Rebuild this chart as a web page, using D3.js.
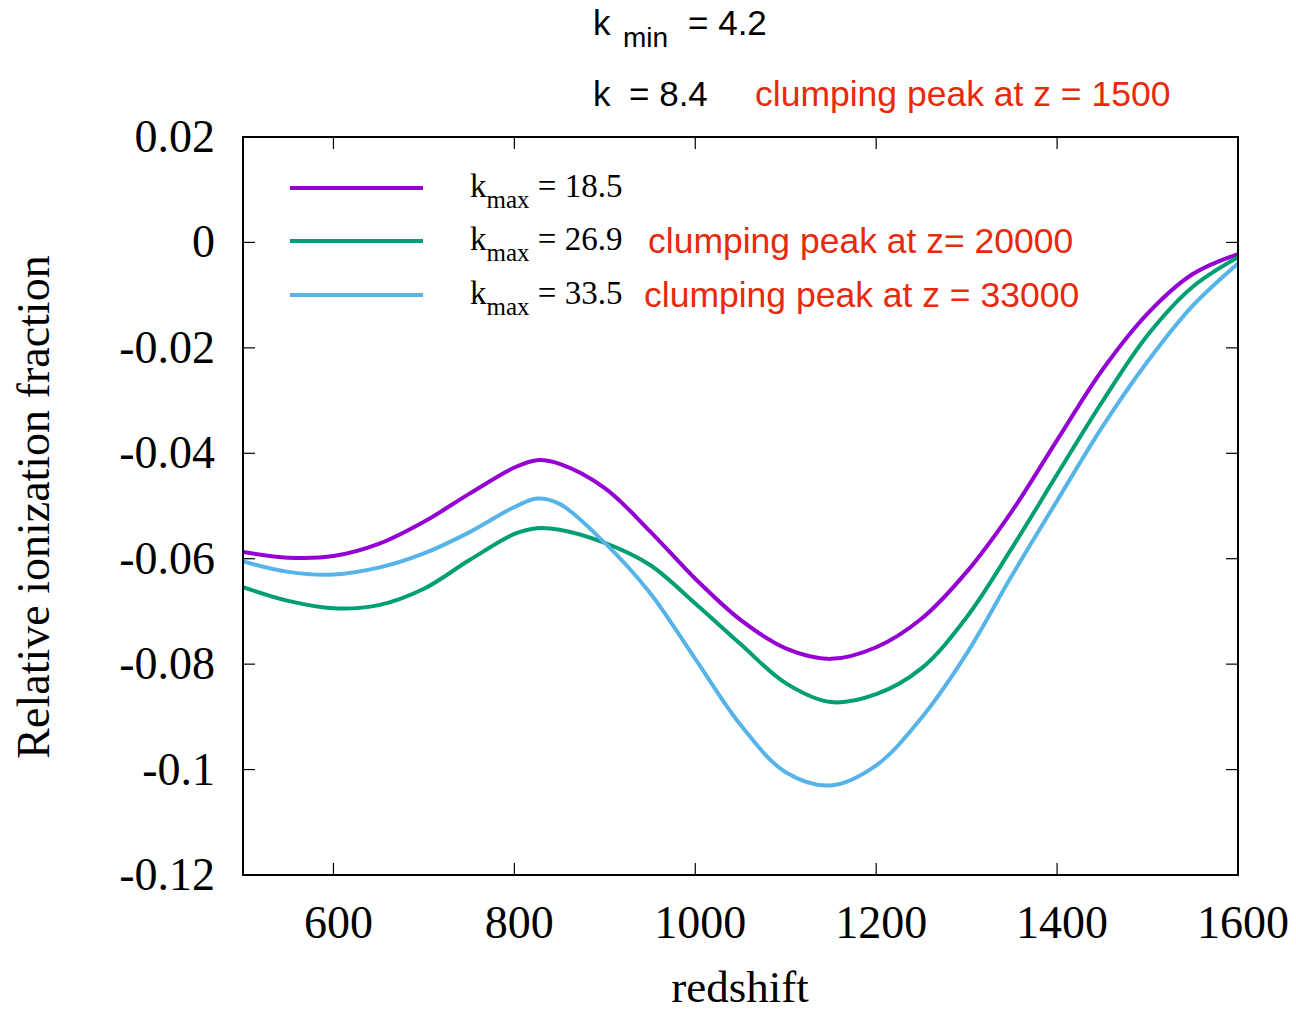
<!DOCTYPE html>
<html>
<head>
<meta charset="utf-8">
<script src="https://cdn.jsdelivr.net/npm/d3@7"></script>
<style>
  html, body { margin: 0; padding: 0; background: #fff; }
  svg { display: block; }
</style>
</head>
<body>
<svg id="chart" width="1296" height="1012"></svg>
<script>
// ---- data ----
const redshift = [500, 550, 600, 650, 700, 750, 800, 825, 850, 900, 950, 1000, 1050, 1100, 1150, 1200, 1250, 1300, 1350, 1400, 1450, 1500, 1550, 1600];
const kmax185 = [-0.0587, -0.0598, -0.0595, -0.0572, -0.0530, -0.0477, -0.0427, -0.0413, -0.0420, -0.0466, -0.0548, -0.0638, -0.0716, -0.0770, -0.0790, -0.0768, -0.0714, -0.0625, -0.0510, -0.0375, -0.0242, -0.0135, -0.0060, -0.0022];
const kmax269 = [-0.0654, -0.0680, -0.0694, -0.0688, -0.0657, -0.0603, -0.0553, -0.0542, -0.0545, -0.0570, -0.0612, -0.0685, -0.0762, -0.0836, -0.0872, -0.0857, -0.0808, -0.0711, -0.0580, -0.0440, -0.0302, -0.0176, -0.0084, -0.0028];
const kmax335 = [-0.0605, -0.0625, -0.0630, -0.0617, -0.0590, -0.0550, -0.0502, -0.0486, -0.0496, -0.0570, -0.0665, -0.0790, -0.0915, -0.1005, -0.1030, -0.0992, -0.0902, -0.0780, -0.0632, -0.0490, -0.0350, -0.0226, -0.0120, -0.0040];
const seriesNames = ["18.5", "26.9", "33.5"];
const seriesColors = ["#9400d3", "#009e73", "#56b4e9"];
const seriesNotes = ["", "clumping peak at z= 20000", "clumping peak at z = 33000"];
const xTicks = [600, 800, 1000, 1200, 1400, 1600];
const yTicks = [0.02, 0, -0.02, -0.04, -0.06, -0.08, -0.1, -0.12];
const yTickLabels = ["0.02", "0", "-0.02", "-0.04", "-0.06", "-0.08", "-0.1", "-0.12"];

// ---- layout ----
const svg = d3.select("#chart");
const L = 243, R = 1238, T = 137, B = 875;
const x = d3.scaleLinear().domain([500, 1600]).range([L, R]);
const y = d3.scaleLinear().domain([-0.12, 0.02]).range([B, T]);
const serif = "'Liberation Serif', 'Times New Roman', serif";
const sans = "'Liberation Sans', Arial, Helvetica, sans-serif";
const red = "#e8290c";

// ticks (mirrored, inward)
const tickLen = 12;
const g = svg.append("g");
xTicks.forEach(v => {
  g.append("line").attr("x1", x(v)).attr("x2", x(v)).attr("y1", B).attr("y2", B - tickLen).attr("stroke", "#000").attr("stroke-width", 1.2);
  g.append("line").attr("x1", x(v)).attr("x2", x(v)).attr("y1", T).attr("y2", T + tickLen).attr("stroke", "#000").attr("stroke-width", 1.2);
});
yTicks.forEach(v => {
  g.append("line").attr("x1", L).attr("x2", L + tickLen).attr("y1", y(v)).attr("y2", y(v)).attr("stroke", "#000").attr("stroke-width", 1.2);
  g.append("line").attr("x1", R).attr("x2", R - tickLen).attr("y1", y(v)).attr("y2", y(v)).attr("stroke", "#000").attr("stroke-width", 1.2);
});

// tick labels
xTicks.forEach(v => {
  svg.append("text").attr("x", x(v) + 5).attr("y", 938)
    .attr("text-anchor", "middle").attr("font-family", serif).attr("font-size", 46)
    .text(v);
});
yTicks.forEach((v, i) => {
  svg.append("text").attr("x", 215).attr("y", y(v) + 15)
    .attr("text-anchor", "end").attr("font-family", serif).attr("font-size", 46)
    .text(yTickLabels[i]);
});

// axis titles
svg.append("text").attr("transform", "translate(49,507) rotate(-90)")
  .attr("text-anchor", "middle").attr("font-family", serif).attr("font-size", 46)
  .text("Relative ionization fraction");
svg.append("text").attr("x", 740).attr("y", 1002)
  .attr("text-anchor", "middle").attr("font-family", serif).attr("font-size", 45)
  .text("redshift");

// lines
const allSeries = [kmax185, kmax269, kmax335];
const line = d3.line().x(d => x(d[0])).y(d => y(d[1])).curve(d3.curveCatmullRom.alpha(0.5));
svg.append("defs").append("clipPath").attr("id", "clip").append("rect")
  .attr("x", L).attr("y", T).attr("width", R - L).attr("height", B - T);
const plotG = svg.append("g").attr("clip-path", "url(#clip)");
allSeries.forEach((s, i) => {
  plotG.append("path")
    .datum(redshift.map((z, j) => [z, s[j]]))
    .attr("d", line).attr("fill", "none")
    .attr("stroke", seriesColors[i]).attr("stroke-width", 4)
    .attr("stroke-linejoin", "round");
});

// frame
svg.append("rect").attr("x", L).attr("y", T).attr("width", R - L).attr("height", B - T)
  .attr("fill", "none").attr("stroke", "#000").attr("stroke-width", 2);

// legend
const legY = [188, 241, 295];
seriesNames.forEach((n, i) => {
  svg.append("line").attr("x1", 290).attr("x2", 423).attr("y1", legY[i]).attr("y2", legY[i])
    .attr("stroke", seriesColors[i]).attr("stroke-width", 4);
  const t = svg.append("text").attr("x", 470).attr("y", legY[i] + 9)
    .attr("font-family", serif).attr("font-size", 33);
  t.append("tspan").text("k");
  t.append("tspan").attr("font-size", 25).attr("dy", 11).text("max");
  t.append("tspan").attr("dy", -11).text(" = " + n);
  if (seriesNotes[i]) {
    svg.append("text").attr("x", i === 1 ? 648 : 644).attr("y", legY[i] + 12)
      .attr("font-family", sans).attr("font-size", 35.5).attr("fill", red)
      .text(seriesNotes[i]);
  }
});

// top annotations
const t1 = svg.append("text").attr("x", 593).attr("y", 35).attr("font-family", sans).attr("font-size", 35);
t1.append("tspan").text("k");
t1.append("tspan").attr("x", 623).attr("y", 47).attr("font-size", 28).text("min");
t1.append("tspan").attr("x", 688).attr("y", 35).text("= 4.2");
svg.append("text").attr("x", 593).attr("y", 106).attr("font-family", sans).attr("font-size", 35).text("k");
svg.append("text").attr("x", 629).attr("y", 106).attr("font-family", sans).attr("font-size", 35).text("= 8.4");
svg.append("text").attr("x", 755).attr("y", 106).attr("font-family", sans).attr("font-size", 35.5).attr("fill", red)
  .text("clumping peak at z = 1500");
</script>
</body>
</html>
